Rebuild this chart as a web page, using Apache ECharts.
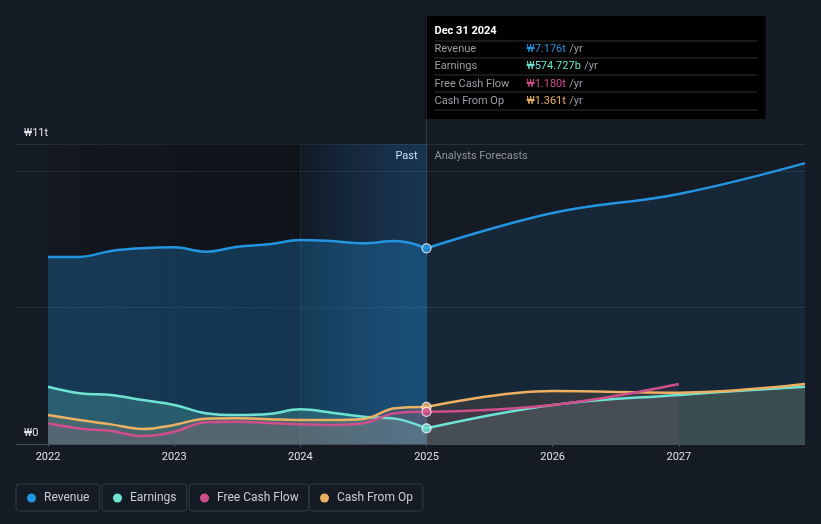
<!DOCTYPE html>
<html>
<head>
<meta charset="utf-8">
<script src="https://cdn.jsdelivr.net/npm/echarts@6/dist/echarts.min.js"></script>
<style>
  html, body { margin: 0; padding: 0; background: #151b25; }
  #main { width: 821px; height: 524px; }
</style>
</head>
<body>
<div id="main"></div>
<script>
const seriesNames = ['Revenue', 'Earnings', 'Free Cash Flow', 'Cash From Op']
const colors = ['#2394df', '#6fe3d3', '#cf4f8c', '#ebb062']

// past (quarterly, trailing twelve months), in trillions of won
const pastX = [2022, 2022.25, 2022.5, 2022.75, 2023, 2023.25, 2023.5, 2023.75, 2024, 2024.25, 2024.5, 2024.75, 2025]
const revenuePast = [6.86, 6.86, 7.08, 7.18, 7.21, 7.05, 7.23, 7.32, 7.48, 7.44, 7.36, 7.44, 7.176]
const earningsPast = [2.10, 1.86, 1.80, 1.61, 1.43, 1.13, 1.06, 1.10, 1.27, 1.15, 1.00, 0.93, 0.575]
const fcfPast = [0.76, 0.57, 0.48, 0.29, 0.45, 0.80, 0.82, 0.77, 0.72, 0.70, 0.76, 1.13, 1.18]
const cfoPast = [1.06, 0.88, 0.72, 0.55, 0.70, 0.93, 0.94, 0.91, 0.88, 0.88, 0.92, 1.31, 1.361]

// analyst forecasts
const forecastX = [2025, 2026, 2027, 2028]
const revenueFc = [7.176, 8.47, 9.17, 10.3]
const earningsFc = [0.575, 1.43, 1.80, 2.10]
const fcfFc = [1.18, 1.43, 2.2]
const cfoFc = [1.361, 1.94, 1.88, 2.2]

const xTicks = [2022, 2023, 2024, 2025, 2026, 2027]
const yTickValues = [0, 11]
const yTickLabels = ['₩0', '₩11t']

const tipTitle = 'Dec 31 2024'
const tipValues = ['₩7.176t', '₩574.727b', '₩1.180t', '₩1.361t']

const FONT = 'Roboto, "Noto Sans", "DejaVu Sans", sans-serif'

const pastSets = [revenuePast, earningsPast, fcfPast, cfoPast]
const fcSets = [revenueFc, earningsFc, fcfFc, cfoFc]
const pastOpacity = [0.28, 0.22, 0.12, 0.14]
const fcOpacity = [0.1, 0.14, 0.09, 0.12]
const drawOrder = [0, 1, 3, 2]

const series = [{
  type: 'line',
  data: [],
  silent: true,
  markArea: {
    silent: true,
    data: [
      [{
        xAxis: 2022,
        itemStyle: {
          color: new echarts.graphic.LinearGradient(0, 0, 1, 0, [
            { offset: 0, color: 'rgba(0,0,0,0.12)' },
            { offset: 1, color: 'rgba(0,0,0,0.32)' }
          ])
        }
      }, { xAxis: 2024 }],
      [{
        xAxis: 2024,
        itemStyle: {
          color: new echarts.graphic.LinearGradient(0, 0, 1, 0, [
            { offset: 0, color: 'rgba(10,20,30,0.35)' },
            { offset: 1, color: 'rgba(33,140,230,0.22)' }
          ])
        }
      }, { xAxis: 2025 }]
    ]
  },
  markLine: {
    silent: true,
    symbol: 'none',
    label: { show: false },
    lineStyle: { color: 'rgba(255,255,255,0.07)', type: 'solid', width: 1 },
    data: [{ xAxis: 2024 }]
  }
}]

drawOrder.forEach(k => {
  series.push({
    name: seriesNames[k],
    type: 'line',
    smooth: 0.4,
    symbol: 'none',
    z: 3,
    lineStyle: { color: colors[k], width: 2.5 },
    itemStyle: { color: colors[k] },
    areaStyle: { color: colors[k], opacity: pastOpacity[k] },
    data: pastSets[k].map((v, i) => [pastX[i], v])
  })
  series.push({
    name: seriesNames[k],
    type: 'line',
    smooth: 0.4,
    symbol: 'none',
    z: 3,
    lineStyle: { color: colors[k], width: 2.5 },
    itemStyle: { color: colors[k] },
    areaStyle: { color: colors[k], opacity: fcOpacity[k] },
    data: fcSets[k].map((v, i) => [forecastX[i], v])
  })
})

// markers at the last reported point
drawOrder.forEach(k => {
  series.push({
    name: seriesNames[k],
    type: 'scatter',
    z: 5,
    symbolSize: 9,
    itemStyle: { color: colors[k], borderColor: '#ffffff', borderWidth: 1.2 },
    data: [[pastX[pastX.length - 1], pastSets[k][pastSets[k].length - 1]]]
  })
})

const legendLeft = [16, 102, 189, 309]
const legends = seriesNames.map((n, i) => ({
  data: [n],
  left: legendLeft[i],
  top: 484,
  padding: [8, 10, 7, 11],
  borderColor: '#353b45',
  borderWidth: 1,
  borderRadius: 3,
  icon: 'circle',
  itemWidth: 9,
  itemHeight: 9,
  selectedMode: false,
  textStyle: { color: '#c9cdd3', fontSize: 12, fontFamily: FONT, padding: [0, 0, 0, 3] }
}))

const chartDom = document.getElementById('main')
const myChart = echarts.init(chartDom)

const option = {
  backgroundColor: '#151b25',
  animation: false,
  textStyle: { fontFamily: FONT },
  grid: { left: 16, right: 16, top: 144, bottom: 80, containLabel: false },
  legend: legends,
  xAxis: {
    type: 'value',
    min: 2021.746,
    max: 2028,
    axisLine: { lineStyle: { color: '#474d57' } },
    axisTick: { show: true, customValues: xTicks, length: 3, lineStyle: { color: '#474d57' } },
    axisLabel: {
      customValues: xTicks,
      formatter: v => String(v),
      color: '#dfe2e6',
      fontSize: 11,
      margin: 8
    },
    splitLine: { show: false }
  },
  yAxis: {
    type: 'value',
    min: 0,
    max: 11,
    interval: 5,
    axisLine: { show: false },
    axisTick: { show: false },
    axisLabel: {
      inside: true,
      customValues: yTickValues,
      formatter: v => yTickLabels[yTickValues.indexOf(v)] || '',
      color: '#dfe2e6',
      fontSize: 11,
      margin: 8,
      verticalAlign: 'bottom',
      padding: [0, 0, 5, 0]
    },
    splitLine: { lineStyle: { color: '#2a303a', width: 1 } }
  },
  series: series
}

myChart.setOption(option)

// tooltip panel, crosshair and section labels anchored at the last reported date
const px = myChart.convertToPixel({ xAxisIndex: 0 }, 2025)
const topY = myChart.convertToPixel({ yAxisIndex: 0 }, 11)
const rowY = [49, 66, 84, 101]
const sepY = [41, 58, 75, 92, 110]
const tipChildren = [
  { type: 'rect', shape: { x: px - 1, y: 16, width: 340, height: 103 }, style: { fill: '#000000' } },
  { type: 'text', x: px + 8, y: 31, style: { text: tipTitle, fill: '#ffffff', font: 'bold 11px ' + FONT, verticalAlign: 'middle' } }
]
sepY.forEach(y => tipChildren.push({
  type: 'line', shape: { x1: px + 8, y1: y, x2: px + 331, y2: y }, style: { stroke: '#2f3237', lineWidth: 1 }
}))
seriesNames.forEach((n, i) => {
  tipChildren.push({ type: 'text', x: px + 8, y: rowY[i], style: { text: n, fill: '#9a9ea5', font: '11px ' + FONT, verticalAlign: 'middle' } })
  tipChildren.push({
    type: 'text', x: px + 100, y: rowY[i],
    style: {
      text: '{v|' + tipValues[i] + '} {u|/yr}',
      verticalAlign: 'middle',
      rich: {
        v: { fill: colors[i], font: '11px ' + FONT },
        u: { fill: '#9a9ea5', font: '11px ' + FONT }
      }
    }
  })
})

myChart.setOption({
  graphic: [
    { type: 'line', z: 1, shape: { x1: px, y1: 16, x2: px, y2: 444 }, style: { stroke: 'rgba(255,255,255,0.14)', lineWidth: 1 } },
    { type: 'group', z: 10, children: tipChildren },
    { type: 'text', x: px - 9, y: topY + 12, style: { text: 'Past', fill: '#ffffff', font: '11px ' + FONT, align: 'right', verticalAlign: 'middle' } },
    { type: 'text', x: px + 8, y: topY + 12, style: { text: 'Analysts Forecasts', fill: '#8e939a', font: '11px ' + FONT, align: 'left', verticalAlign: 'middle' } }
  ]
})
</script>
</body>
</html>
